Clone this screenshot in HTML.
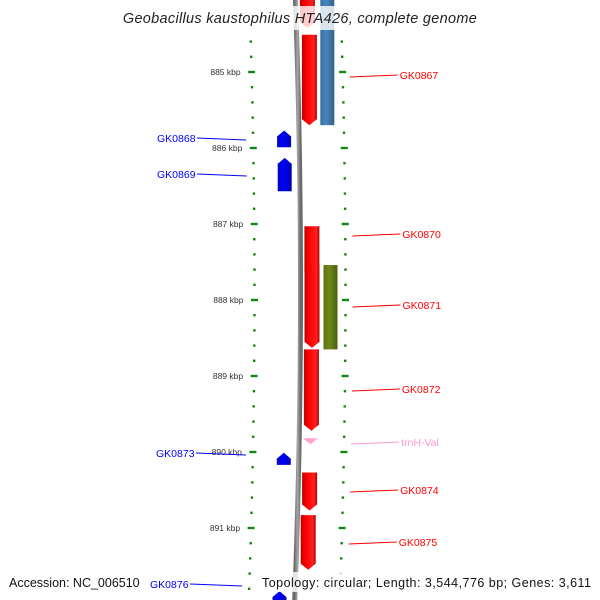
<!DOCTYPE html>
<html><head><meta charset="utf-8"><style>
html,body{margin:0;padding:0;background:#fff;}
svg{display:block;font-family:"Liberation Sans",sans-serif;}
</style></head><body>
<svg id="map" width="600" height="600" viewBox="0 0 600 600">
<defs>
<linearGradient id="gRed" x1="0" x2="1"><stop offset="0" stop-color="#c00000"/><stop offset="0.35" stop-color="#ff0000"/><stop offset="0.8" stop-color="#ff2020"/><stop offset="1" stop-color="#b00000"/></linearGradient>
<linearGradient id="gBlue" x1="0" x2="1"><stop offset="0" stop-color="#0000c0"/><stop offset="0.4" stop-color="#0000ff"/><stop offset="1" stop-color="#0000b0"/></linearGradient>
<linearGradient id="gSteel" x1="0" x2="1"><stop offset="0" stop-color="#3a6f9e"/><stop offset="0.4" stop-color="#4a86bb"/><stop offset="1" stop-color="#2f5f8a"/></linearGradient>
<linearGradient id="gOlive" x1="0" x2="1"><stop offset="0" stop-color="#5a7010"/><stop offset="0.4" stop-color="#6f8a1a"/><stop offset="1" stop-color="#4d600c"/></linearGradient>
<linearGradient id="gPink" x1="0" x2="1"><stop offset="0" stop-color="#ff99cc"/><stop offset="1" stop-color="#ffb0d8"/></linearGradient>
<linearGradient id="gBone" x1="0" x2="1"><stop offset="0" stop-color="#6a6a6a"/><stop offset="0.5" stop-color="#a8a8a8"/><stop offset="1" stop-color="#6a6a6a"/></linearGradient>
</defs>
<g id="layer"></g>
</svg>
<script>
// data (kbp)
const geneNames = ["GK0866","GK0867","GK0868","GK0869","GK0870","GK0871","GK0872","trnH-Val","GK0873","GK0874","GK0875","GK0876"];
const geneStart = [884.0, 884.51, 885.77, 886.13, 887.03, 887.54, 888.65, 889.82, 890.01, 890.27, 890.83, 891.83];
const geneEnd   = [884.42, 885.70, 885.99, 886.57, 887.72, 888.63, 889.72, 889.9, 890.17, 890.77, 891.55, 892.2];
const geneStrand= [1,1,-1,-1,1,1,1,1,-1,1,1,-1];
const geneKind  = ["cds","cds","cds","cds","cds","cds","cds","trna","cds","cds","cds","cds"];
const labelY    = [null,75,138,174,234,305,389,442,453,490,542,584];
const featNames = ["steel-feature","olive-feature"];
const featStart = [884.0, 887.54];
const featEnd   = [885.70, 888.65];
const featFill  = ["url(#gSteel)","url(#gOlive)"];
const tickLabels= ["885 kbp","886 kbp","887 kbp","888 kbp","889 kbp","890 kbp","891 kbp"];
const tickValues= [885,886,887,888,889,890,891];

const NS="http://www.w3.org/2000/svg";
const L=document.getElementById('layer');
function yOf(k){return 72+(k-885)*76;}
function cx(y){return 300.5-6e-5*(y-290)*(y-290);}
function mk(tag,attrs,parent){const e=document.createElementNS(NS,tag);for(const k in attrs)e.setAttribute(k,attrs[k]);(parent||L).appendChild(e);return e;}

// backbone
let d="";for(let y=-5;y<=605;y+=5){d+=(y===-5?"M":"L")+cx(y).toFixed(2)+","+y;}
const bb=mk('path',{d:d,stroke:"url(#gBone)",'stroke-width':5,fill:"none"});



// tick dots
for(let k=884.4;k<=892.01;k+=0.2){
  const y=yOf(k); if(y<30||y>600) continue;
  const major=Math.abs(k-Math.round(k))<0.01;
  const c=cx(y);
  [-46,45].forEach(off=>{
    const t=mk('rect',{x:(c+off-(major?3.5:1.2)).toFixed(1),y:(y-1.2).toFixed(1),width:major?7:2.4,height:2.4,fill:"#118811"});
    
    
  });
}
tickValues.forEach((v,i)=>{
  const y=yOf(v);
  const t=mk('text',{x:(cx(y)-57).toFixed(1),y:y+3,'font-size':8.5,fill:"#333",'text-anchor':"end"});
  t.textContent=tickLabels[i];
  
  
});

// features
featNames.forEach((n,i)=>{
  const y1=yOf(featStart[i]),y2=yOf(featEnd[i]);const c=cx((y1+y2)/2);
  const r=mk('rect',{x:(c+23).toFixed(1),y:Math.max(y1,-2),width:14,height:y2-Math.max(y1,-2),fill:featFill[i]});
  
  
});

// genes
geneNames.forEach((n,i)=>{
  const y1=yOf(geneStart[i]),y2=yOf(geneEnd[i]);const c=cx((y1+y2)/2);
  let x1,x2,fill;
  if(geneStrand[i]>0){x1=c+4;x2=c+19;fill="url(#gRed)";}else{x1=c-22;x2=c-8;fill="url(#gBlue)";}
  if(geneKind[i]==="trna"){fill="url(#gPink)";}
  const m=(x1+x2)/2,h=6;let pts;
  if(geneKind[i]==="trna"){pts=[[x1,y1],[x2,y1],[m,y2]];}
  else if(geneStrand[i]>0){pts=[[x1,y1],[x2,y1],[x2,y2-h],[m,y2],[x1,y2-h]];}
  else{pts=[[m,y1],[x2,y1+h],[x2,y2],[x1,y2],[x1,y1+h]];}
  const p=mk('polygon',{points:pts.map(q=>q[0].toFixed(1)+","+q[1].toFixed(1)).join(" "),fill:fill});
  
  
  if(labelY[i]==null) return;
  const col=geneKind[i]==="trna"?"#ff99cc":(geneStrand[i]>0?"#ff0000":"#0000ff");
  const ly=labelY[i];
  if(geneStrand[i]>0){
    const c2=cx(ly);
    mk('line',{x1:(c2+52).toFixed(1),y1:ly+2,x2:(c2+100).toFixed(1),y2:ly,stroke:col,'stroke-width':1});
    const t=mk('text',{x:(c2+102).toFixed(1),y:ly+4,'font-size':10.5,fill:col});
    t.textContent=n;
    
    
  } else {
    const c2=cx(ly);
    const tx=n==="GK0876"?150:(n==="GK0873"?156:157);
    const t=mk('text',{x:tx,y:ly+4,'font-size':10.5,fill:col});
    t.textContent=n;
    
    
    mk('line',{x1:tx+40,y1:ly,x2:(c2-53).toFixed(1),y2:ly+2,stroke:col,'stroke-width':1});
  }
});

// title & footer
const tb=mk('rect',{x:112,y:6,width:376,height:24,fill:"#fff",'fill-opacity':0.8});


const ti=mk('text',{x:300,y:23,'font-size':14.5,'font-style':"italic",fill:"#222",'text-anchor':"middle",'letter-spacing':"0.3"});
ti.textContent="Geobacillus kaustophilus HTA426, complete genome";


const fb=mk('rect',{x:258,y:572,width:338,height:20,fill:"#fff",'fill-opacity':0.8});


const f1=mk('text',{x:9,y:587,'font-size':12.5,fill:"#111"});
f1.textContent="Accession: NC_006510";


const f2=mk('text',{x:262,y:587,'font-size':12.5,fill:"#111",textLength:329});
f2.textContent="Topology: circular; Length: 3,544,776 bp; Genes: 3,611";


</script>
</body></html>
